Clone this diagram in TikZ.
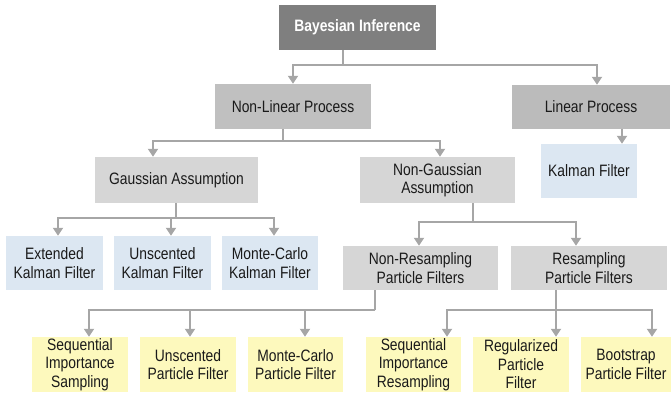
\documentclass[tikz,border=0pt]{standalone}
\usepackage{fontspec}
\setmainfont{Liberation Sans}[FakeStretch=0.84]
\usetikzlibrary{arrows.meta}

\definecolor{topgray}{HTML}{7F7F7F}
\definecolor{midgray}{HTML}{C0C0C0}
\definecolor{lingray}{HTML}{BBBBBB}
\definecolor{lightgray}{HTML}{D6D6D6}
\definecolor{paleblue}{HTML}{DCE7F2}
\definecolor{paleyellow}{HTML}{FDF9BD}
\definecolor{linkgray}{HTML}{A6A6A6}
\definecolor{inkgray}{HTML}{1A1A1A}

\tikzset{
  box/.style={rectangle, draw=none, inner sep=0pt, align=center,
    text=inkgray, font=\fontsize{16.5}{18.5}\selectfont},
  rootbox/.style={box, fill=topgray, text=white,
    font=\fontsize{16.5}{18.5}\selectfont\bfseries},
  procbox/.style={box, fill=midgray},
  assumbox/.style={box, fill=lightgray},
  kalmanbox/.style={box, fill=paleblue},
  pfbox/.style={box, fill=paleyellow},
  link/.style={draw=linkgray, line width=2.6pt},
  arrow/.style={link, -{Triangle[width=10pt,length=8pt]}},
}

\begin{document}
\begin{tikzpicture}[x=1pt,y=-1pt]
\useasboundingbox (0,0) rectangle (672,396);

% root
\node[rootbox, minimum width=157pt, minimum height=45pt] (bayes) at (357.5,27.5) {Bayesian Inference};

% process level
\node[procbox, minimum width=156pt, minimum height=45pt] (nonlin) at (293,106.5) {Non-Linear Process};
\node[procbox, fill=lingray, minimum width=158pt, minimum height=44pt] (linear) at (591,107) {Linear Process};
\node[kalmanbox, minimum width=96pt, minimum height=54pt] (kalman) at (589,171) {Kalman Filter};

% assumption level
\node[assumbox, minimum width=163pt, minimum height=46pt] (gauss) at (176.5,180) {Gaussian Assumption};
\node[assumbox, minimum width=155pt, minimum height=46pt] (nongauss) at (437.5,180) {Non-Gaussian\\Assumption};

% Kalman variants
\node[kalmanbox, minimum width=97pt, minimum height=54pt] (ekf) at (54.5,263) {Extended\\Kalman Filter};
\node[kalmanbox, minimum width=97pt, minimum height=54pt] (ukf) at (162.5,263) {Unscented\\Kalman Filter};
\node[kalmanbox, minimum width=96pt, minimum height=54pt] (mckf) at (270,263) {Monte-Carlo\\Kalman Filter};

% particle filter families
\node[assumbox, minimum width=155pt, minimum height=44pt] (nonres) at (420.5,268) {Non-Resampling\\Particle Filters};
\node[assumbox, minimum width=156pt, minimum height=44pt] (res) at (589,268) {Resampling\\Particle Filters};

% particle filters
\node[pfbox, minimum width=96pt, minimum height=55pt] (sis) at (80,364.5) {Sequential\\Importance\\Sampling};
\node[pfbox, minimum width=96pt, minimum height=55pt] (upf) at (188,364.5) {Unscented\\Particle Filter};
\node[pfbox, minimum width=95pt, minimum height=55pt] (mcpf) at (295.5,364.5) {Monte-Carlo\\Particle Filter};
\node[pfbox, minimum width=95pt, minimum height=55pt] (sir) at (413.5,364.5) {Sequential\\Importance\\Resampling};
\node[pfbox, minimum width=96pt, minimum height=55pt] (rpf) at (521,364.5) {Regularized\\Particle\\Filter};
\node[pfbox, minimum width=90pt, minimum height=55pt] (bpf) at (626,364.5) {Bootstrap\\Particle Filter};

% branch points of the connector buses
\coordinate (j1) at (343,65);
\coordinate (j2) at (283,141);
\coordinate (j3) at (176,218);
\coordinate (j4) at (473,222);
\coordinate (j5) at (375,310);
\coordinate (j6) at (556,310);

% Bayesian Inference -> processes
\draw[link] (bayes.south -| j1) -- (j1);
\draw[arrow] (j1) -| (nonlin.north);
\draw[arrow] (j1) -| ([xshift=6pt]linear.north);

% Linear Process -> Kalman Filter
\coordinate (k1) at ([xshift=31pt]linear.south);
\draw[arrow] (k1) -- (k1 |- kalman.north);

% Non-Linear Process -> assumptions
\draw[link] (nonlin.south -| j2) -- (j2);
\draw[arrow] (j2) -| ([xshift=-23.5pt]gauss.north);
\draw[arrow] (j2) -| ([xshift=2.5pt]nongauss.north);

% Gaussian Assumption -> Kalman variants
\draw[link] (gauss.south -| j3) -- (j3);
\draw[arrow] (j3) -| ([xshift=3.5pt]ekf.north);
\draw[arrow] (j3) -| ([xshift=8.5pt]ukf.north);
\draw[arrow] (j3) -| ([xshift=4pt]mckf.north);

% Non-Gaussian Assumption -> particle filter families
\draw[link] (nongauss.south -| j4) -- (j4);
\draw[arrow] (j4) -| ([xshift=-1.5pt]nonres.north);
\draw[arrow] (j4) -| ([xshift=-13pt]res.north);

% Non-Resampling -> filters
\draw[link] (nonres.south -| j5) -- (j5);
\draw[arrow] (j5) -| ([xshift=9pt]sis.north);
\draw[arrow] (j5) -| ([xshift=2pt]upf.north);
\draw[arrow] (j5) -| ([xshift=9.5pt]mcpf.north);

% Resampling -> filters
\draw[link] (res.south -| j6) -- (j6);
\draw[arrow] (j6) -| ([xshift=33.5pt]sir.north);
\draw[arrow] (j6) -- (j6 |- rpf.north);
\draw[arrow] (j6) -| ([xshift=26pt]bpf.north);
\end{tikzpicture}
\end{document}
